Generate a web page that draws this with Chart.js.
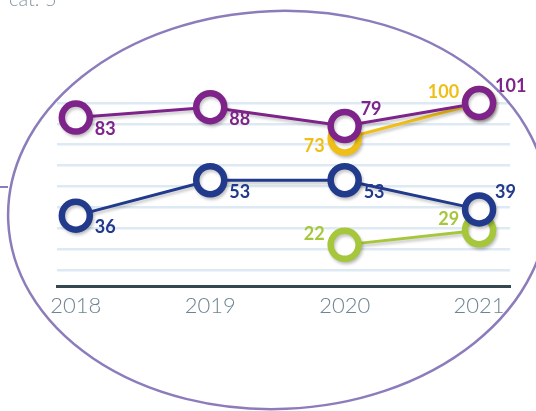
<!DOCTYPE html>
<html>
<head>
<meta charset="utf-8">
<script src="https://cdn.jsdelivr.net/npm/chart.js@4.4.1/dist/chart.umd.min.js"></script>
<style>
  body { margin: 0; background: #fff; }
  canvas { display: block; }
</style>
</head>
<body>
<canvas id="grafico" width="536" height="411"></canvas>
<script>
const anios = [2018, 2019, 2020, 2021];
const serieMorada = [83, 88, 79, 101];
const serieAzul = [36, 53, 53, 39];
const serieAmarilla = [null, null, 73, 100];
const serieVerde = [null, null, 22, 29];

const colores = {
  morado: '#7d2389',
  azul: '#213a8c',
  amarillo: '#efbf17',
  verde: '#a6c73c'
};

function puntos(valores) {
  return anios.map((a, i) => ({ x: a, y: valores[i] }));
}

function crearSerie(valores, color, posiciones) {
  return {
    data: puntos(valores),
    borderColor: color,
    borderWidth: 3,
    pointRadius: 14,
    pointBorderWidth: 6.5,
    pointBackgroundColor: '#fff',
    pointBorderColor: color,
    tension: 0,
    clip: false,
    posiciones: posiciones
  };
}

// the original pins points above the top of the scale to the top edge
const tope = {
  id: 'tope',
  afterDatasetsUpdate(chart) {
    const top = chart.chartArea.top;
    chart.data.datasets.forEach((ds, i) => {
      chart.getDatasetMeta(i).data.forEach(p => {
        if (p.y < top) p.y = top;
      });
    });
  }
};

const sombra = {
  id: 'sombra',
  beforeDatasetDraw(chart) {
    const ctx = chart.ctx;
    ctx.save();
    ctx.shadowColor = 'rgba(0,0,0,0.22)';
    ctx.shadowBlur = 3;
    ctx.shadowOffsetX = 1.5;
    ctx.shadowOffsetY = 2.5;
  },
  afterDatasetDraw(chart) {
    chart.ctx.restore();
  }
};

const etiquetas = {
  id: 'etiquetas',
  afterDatasetsDraw(chart) {
    const ctx = chart.ctx;
    ctx.save();
    ctx.font = 'bold 18px Lato';
    ctx.textBaseline = 'middle';
    chart.data.datasets.forEach((ds, i) => {
      chart.getDatasetMeta(i).data.forEach((p, j) => {
        const v = ds.data[j].y;
        if (v === null) return;
        const pos = ds.posiciones[j];
        let dx = 19, dy = 12;
        ctx.textAlign = 'left';
        if (pos === 'tr') { dx = 16; dy = -17; }
        if (pos === 'bl') { dx = -20; dy = 8; ctx.textAlign = 'right'; }
        if (pos === 'tl') { dx = -20; dy = -11; ctx.textAlign = 'right'; }
        ctx.fillStyle = ds.borderColor;
        ctx.fillText(String(v), p.x + dx, p.y + dy);
      });
    });
    ctx.restore();
  }
};

const ovalo = {
  id: 'ovalo',
  afterDraw(chart) {
    const ctx = chart.ctx;
    ctx.save();
    ctx.fillStyle = '#8796a0';
    ctx.font = '300 20px Lato';
    ctx.textBaseline = 'alphabetic';
    ctx.textAlign = 'left';
    ctx.fillText('cat. 5', 9, 6);

    ctx.strokeStyle = '#8d7cbc';
    ctx.lineWidth = 2;
    ctx.beginPath();
    ctx.moveTo(0, 187);
    ctx.lineTo(8, 187);
    ctx.stroke();

    ctx.lineWidth = 2.5;
    ctx.beginPath();
    ctx.ellipse(278, 210, 270, 199, -0.04, 0, Math.PI * 2);
    ctx.stroke();
    ctx.restore();
  }
};

new Chart(document.getElementById('grafico'), {
  type: 'line',
  data: {
    datasets: [
      crearSerie(serieMorada, colores.morado, ['br', 'br', 'tr', 'tr']),
      crearSerie(serieAzul, colores.azul, ['br', 'br', 'br', 'tr']),
      crearSerie(serieAmarilla, colores.amarillo, ['', '', 'bl', 'tl']),
      crearSerie(serieVerde, colores.verde, ['', '', 'tl', 'tl'])
    ]
  },
  options: {
    responsive: false,
    animation: false,
    layout: { padding: { left: 57, right: 26, top: 103, bottom: 86 } },
    plugins: {
      legend: { display: false },
      tooltip: { enabled: false }
    },
    scales: {
      x: {
        type: 'linear',
        min: 2017.86,
        max: 2021.23,
        grid: { display: false, drawTicks: false },
        border: { display: true, color: '#34474f', width: 3 },
        ticks: {
          stepSize: 1,
          includeBounds: false,
          padding: 6,
          color: '#6d8492',
          font: { family: 'Lato', size: 22, weight: '300' },
          callback: v => String(v)
        }
      },
      y: {
        min: 2,
        max: 90,
        afterFit: s => { s.width = 0; },
        grid: { color: '#deeaf3', lineWidth: 2.5, drawTicks: false },
        border: { display: false },
        ticks: { display: false, stepSize: 10 }
      }
    }
  },
  plugins: [tope, sombra, etiquetas, ovalo]
});
</script>
</body>
</html>
